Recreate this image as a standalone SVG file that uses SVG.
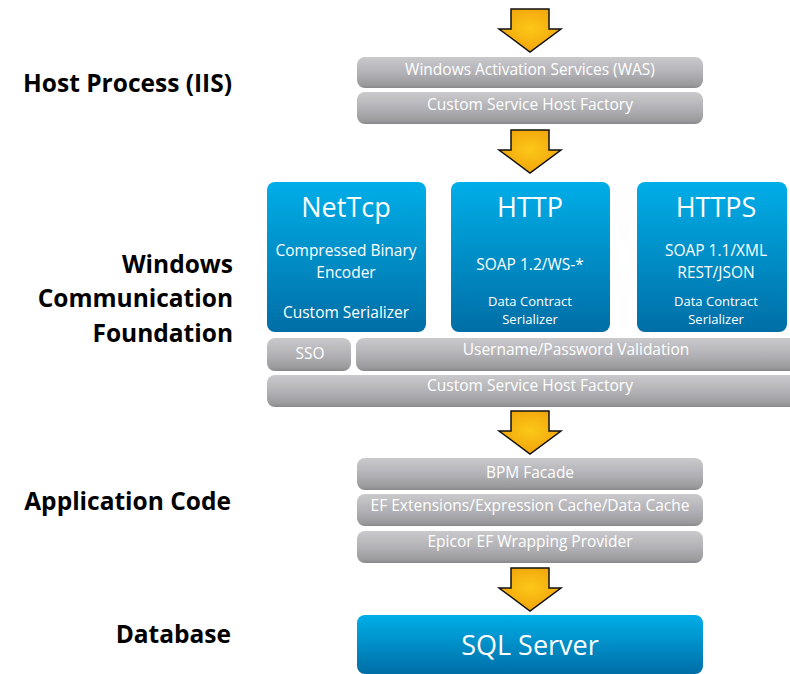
<svg xmlns="http://www.w3.org/2000/svg" width="790" height="674" viewBox="0 0 790 674">
<defs>
<linearGradient id="gray" x1="0" y1="0" x2="0" y2="1">
<stop offset="0" stop-color="#cacacd"/>
<stop offset="0.55" stop-color="#b0b0b4"/>
<stop offset="0.9" stop-color="#9a9a9d"/>
<stop offset="1" stop-color="#88888a"/>
</linearGradient>
<linearGradient id="blue" x1="0" y1="0" x2="0" y2="1">
<stop offset="0" stop-color="#00aee8"/>
<stop offset="1" stop-color="#006ea6"/>
</linearGradient>
<radialGradient id="gold" cx="0.5" cy="0.45" r="0.6">
<stop offset="0" stop-color="#fcc818"/>
<stop offset="1" stop-color="#f0a00a"/>
</radialGradient>
<path id="arrow" d="M-19,0 H19 V20 H31 L0,43 L-31,20 H-19 Z"/>
</defs>
<style>
.bar{fill:url(#gray);}
.box{fill:url(#blue);}
.bt{font-family:"Open Sans","DejaVu Sans",sans-serif;font-size:15.5px;fill:#ffffff;text-anchor:middle;}
.wt{font-family:"Open Sans","DejaVu Sans",sans-serif;fill:#ffffff;text-anchor:middle;}
.lbl{font-family:"Open Sans","DejaVu Sans",sans-serif;font-size:24.5px;font-weight:bold;fill:#000;text-anchor:end;}
.arr{fill:url(#gold);stroke:#111;stroke-width:1.5;stroke-linejoin:miter;}
</style>

<g id="labels">
<text class="lbl" x="232" y="92">Host Process (IIS)</text>
<text class="lbl" x="233" y="273">Windows</text>
<text class="lbl" x="233" y="307">Communication</text>
<text class="lbl" x="233" y="342">Foundation</text>
<text class="lbl" x="231" y="510">Application Code</text>
<text class="lbl" x="231" y="643">Database</text>
</g>

<g id="connectors">
<use href="#arrow" class="arr" x="530" y="9"/>
<use href="#arrow" class="arr" x="530" y="130"/>
<use href="#arrow" class="arr" x="530" y="411"/>
<use href="#arrow" class="arr" x="530" y="568"/>
</g>

<g id="was"><rect class="bar" x="357" y="57" width="346" height="31" rx="8"/><text class="bt" x="530" y="75">Windows Activation Services (WAS)</text></g>
<g id="cshf1"><rect class="bar" x="357" y="92" width="346" height="32" rx="8"/><text class="bt" x="530" y="110">Custom Service Host Factory</text></g>

<g id="nettcp"><rect class="box" x="267" y="182" width="159" height="150" rx="8"/>
<text class="wt" x="346" y="217" font-size="27">NetTcp</text>
<text class="wt" x="346" y="256" font-size="15.5">Compressed Binary</text>
<text class="wt" x="346" y="278" font-size="15.5">Encoder</text>
<text class="wt" x="346" y="318" font-size="15.5">Custom Serializer</text></g>
<g id="http"><rect class="box" x="451" y="182" width="159" height="150" rx="8"/>
<text class="wt" x="530" y="217" font-size="27">HTTP</text>
<text class="wt" x="530" y="270" font-size="15.5">SOAP 1.2/WS-*</text>
<text class="wt" x="530" y="306" font-size="13">Data Contract</text>
<text class="wt" x="530" y="324" font-size="13">Serializer</text></g>
<g id="https"><rect class="box" x="637" y="182" width="150" height="150" rx="8"/>
<text class="wt" x="716" y="217" font-size="27">HTTPS</text>
<text class="wt" x="716" y="256" font-size="15.5">SOAP 1.1/XML</text>
<text class="wt" x="716" y="278" font-size="15.5">REST/JSON</text>
<text class="wt" x="716" y="306" font-size="13">Data Contract</text>
<text class="wt" x="716" y="324" font-size="13">Serializer</text></g>

<g id="sso"><rect class="bar" x="267" y="338" width="84" height="33" rx="8"/><text class="bt" x="310" y="359">SSO</text></g>
<g id="userpass"><rect class="bar" x="356" y="338" width="444" height="33" rx="8"/><text class="bt" x="576" y="355">Username/Password Validation</text></g>
<g id="cshf2"><rect class="bar" x="267" y="375" width="533" height="32" rx="8"/><text class="bt" x="530" y="391">Custom Service Host Factory</text></g>

<g id="bpm"><rect class="bar" x="357" y="458" width="346" height="32" rx="8"/><text class="bt" x="530" y="478">BPM Facade</text></g>
<g id="ef"><rect class="bar" x="357" y="494" width="346" height="32" rx="8"/><text class="bt" x="530" y="511">EF Extensions/Expression Cache/Data Cache</text></g>
<g id="epicor"><rect class="bar" x="357" y="531" width="346" height="32" rx="8"/><text class="bt" x="530" y="547">Epicor EF Wrapping Provider</text></g>

<g id="sql"><rect class="box" x="357" y="615" width="346" height="59" rx="8"/><text class="wt" x="530" y="655" font-size="27">SQL Server</text></g>
</svg>
